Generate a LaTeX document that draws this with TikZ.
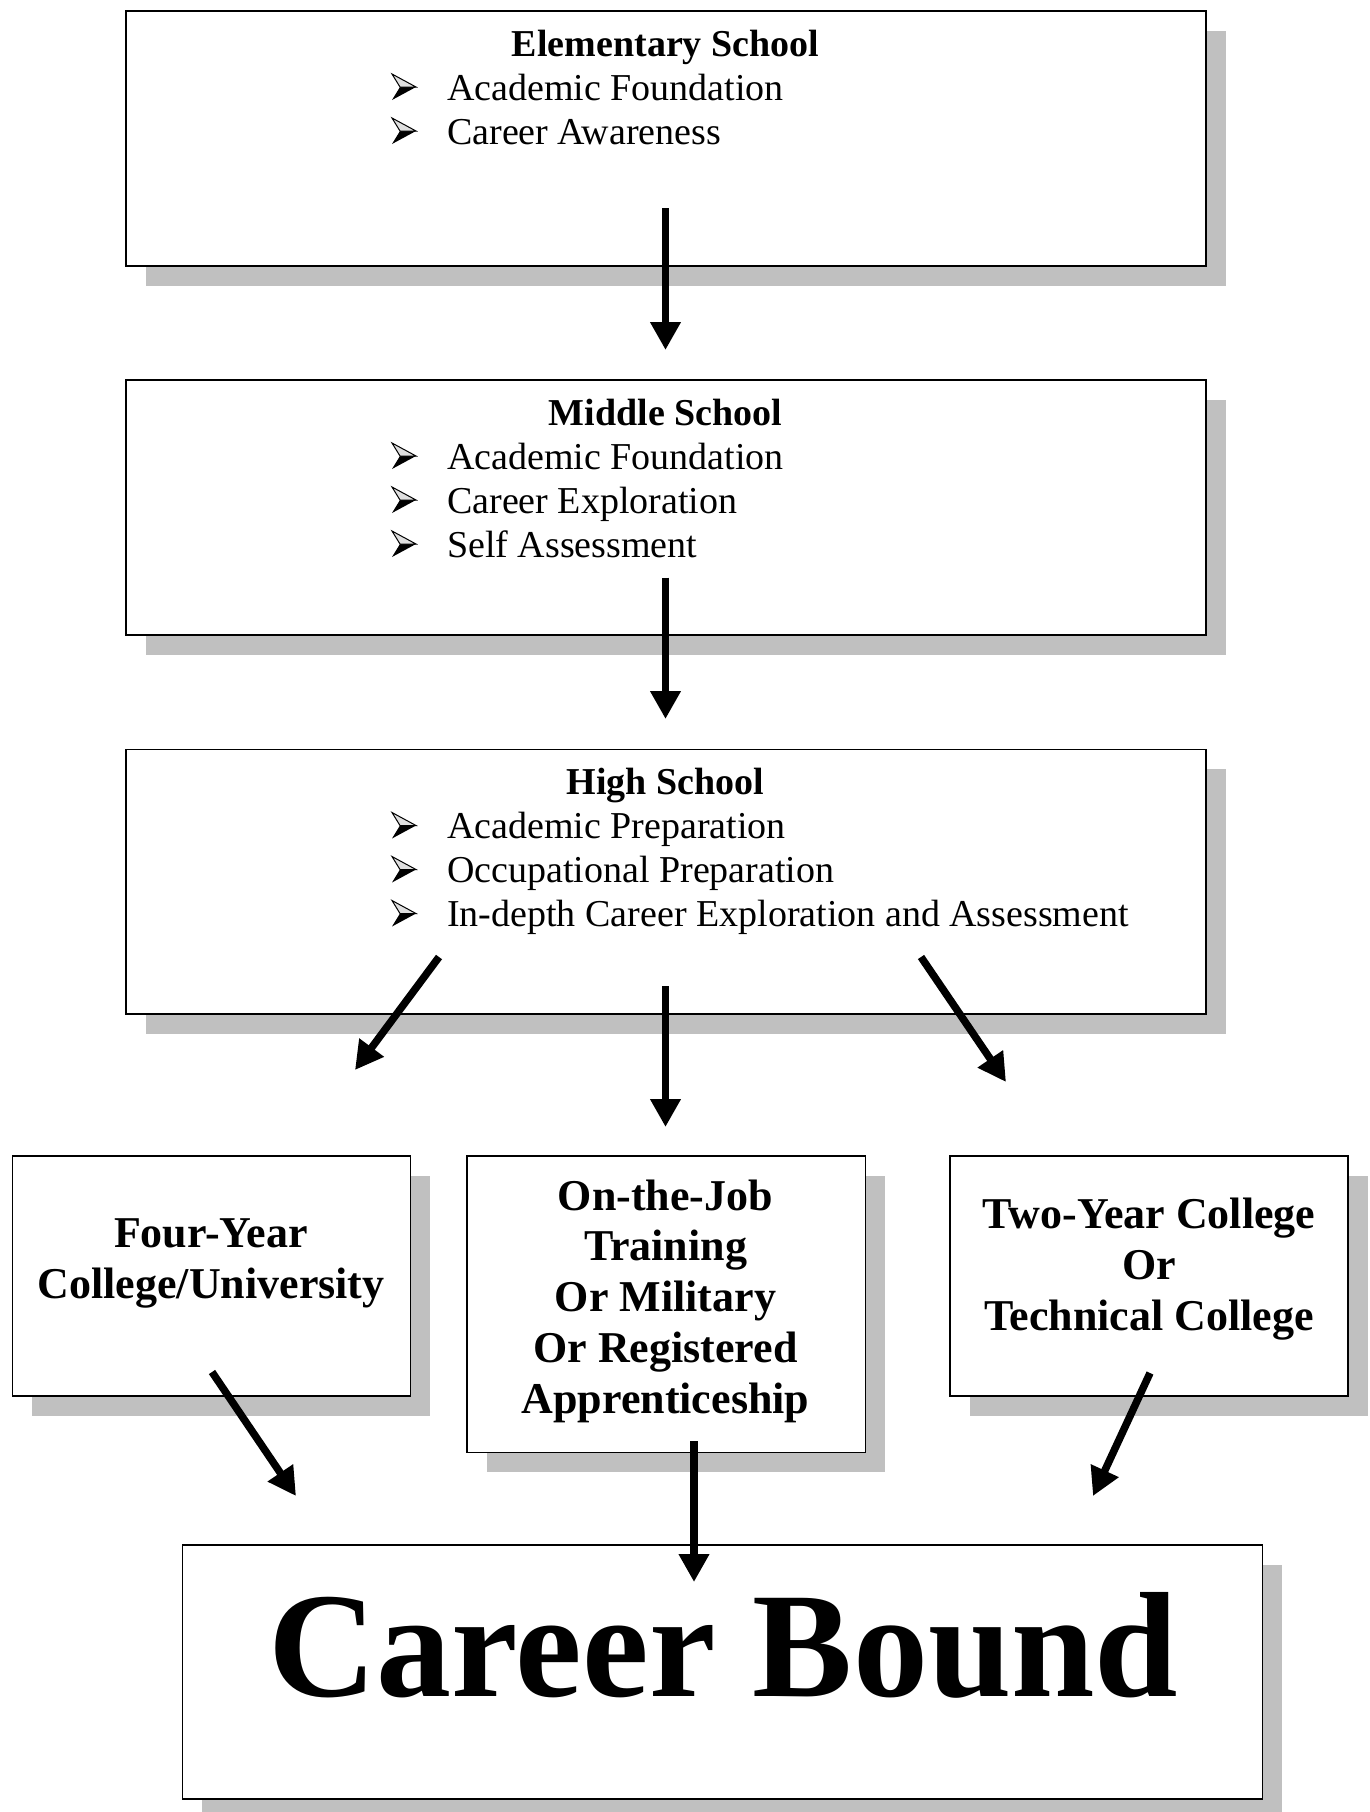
\documentclass[tikz,border=0pt]{standalone}
\usepackage{fontspec}
\setmainfont{Liberation Serif}
\usetikzlibrary{arrows.meta,shadows}
\definecolor{shadowgray}{RGB}{192,192,192}
\begin{document}
\begin{tikzpicture}[x=1pt,y=-1pt,
  box/.style={draw=black, line width=1.8pt, fill=white, inner sep=0pt,
    anchor=north west,
    drop shadow={shadow xshift=20pt, shadow yshift=-20pt, fill=shadowgray, opacity=1}},
  flow/.style={line width=7.5pt, -{Triangle[length=28pt,width=29pt]}},
  ttl/.style={anchor=base, inner sep=0pt, font=\fontsize{38}{44}\selectfont\bfseries},
  itm/.style={anchor=base west, inner sep=0pt, font=\fontsize{38}{44}\selectfont},
  big/.style={anchor=base, inner sep=0pt, font=\fontsize{44}{51}\selectfont\bfseries},
  arrowbullet/.pic={
    \fill[black] (8,-13) -- (24,-13) -- (0,0) -- cycle;
    \draw[line width=1pt, line join=miter, fill=gray!25] (0,-26) -- (24,-13) -- (8,-13) -- cycle;
  }]
\useasboundingbox (0,0) rectangle (1369,1812);
\clip (0,0) rectangle (1369,1812);
\fill[white] (0,0) rectangle (1369,1812);

% boxes
\node[box, minimum width=1080pt, minimum height=255pt] (elem) at (125,10) {};
\node[box, minimum width=1080pt, minimum height=255pt] (mid) at (125,379) {};
\node[box, minimum width=1080pt, minimum height=264.5pt] (high) at (125,748.5) {};
\node[box, minimum width=398pt, minimum height=240pt] (four) at (11.5,1155) {};
\node[box, minimum width=398.5pt, minimum height=296.5pt] (ojt) at (466,1155) {};
\node[box, minimum width=398pt, minimum height=240pt] (two) at (949,1155) {};
\node[box, minimum width=1080pt, minimum height=254pt] (cb) at (181.5,1544) {};

% Elementary
\node[ttl] (elemT) at (665.5,56) {Elementary School};
\pic at (392,100) {arrowbullet};
\node[itm] (elemA) at (447,100) {Academic Foundation};
\pic at (392,144) {arrowbullet};
\node[itm] (elemB) at (447,144) {Career Awareness};

% Middle
\node[ttl] (midT) at (665.5,425) {Middle School};
\pic at (392,469) {arrowbullet};
\node[itm] (midA) at (447,469) {Academic Foundation};
\pic at (392,513) {arrowbullet};
\node[itm] (midB) at (447,513) {Career Exploration};
\pic at (392,557) {arrowbullet};
\node[itm] (midC) at (447,557) {Self Assessment};

% High
\node[ttl] (highT) at (665.5,794.5) {High School};
\pic at (392,838.5) {arrowbullet};
\node[itm] (highA) at (447,838.5) {Academic Preparation};
\pic at (392,882.5) {arrowbullet};
\node[itm] (highB) at (447,882.5) {Occupational Preparation};
\pic at (392,926.5) {arrowbullet};
\node[itm] (highC) at (447,926.5) {In-depth Career Exploration and Assessment};

% Four-year
\node[big] (fourA) at (211,1247.5) {Four-Year};
\node[big] (fourB) at (211,1298.5) {College/University};

% On-the-job
\node[big] (ojtA) at (665.5,1210) {On-the-Job};
\node[big] (ojtB) at (665.5,1260.8) {Training};
\node[big] (ojtC) at (665.5,1311.6) {Or Military};
\node[big] (ojtD) at (665.5,1362.4) {Or Registered};
\node[big] (ojtE) at (665.5,1413.2) {Apprenticeship};

% Two-year
\node[big] (twoA) at (1149,1228.5) {Two-Year College};
\node[big] (twoB) at (1149,1279.3) {Or};
\node[big] (twoC) at (1149,1330.1) {Technical College};

% Career Bound
\node[anchor=base, inner sep=0pt, font=\fontsize{150}{170}\selectfont\bfseries] (cbT) at (723.5,1696.5) {Career Bound};

% arrow end points
\coordinate (e1s) at (665.5,208);   \coordinate (e1e) at (665.5,350);
\coordinate (m1s) at (665.5,577.5); \coordinate (m1e) at (665.5,719);
\coordinate (hLs) at (439,957);     \coordinate (hLe) at (355,1070);
\coordinate (hMs) at (665.5,986);   \coordinate (hMe) at (665.5,1127);
\coordinate (hRs) at (921,957);     \coordinate (hRe) at (1006,1082);
\coordinate (fLs) at (212,1372);    \coordinate (fLe) at (296,1496);
\coordinate (oMs) at (694,1441);    \coordinate (oMe) at (694,1582);
\coordinate (tRs) at (1150,1373);   \coordinate (tRe) at (1093,1496);

\draw[flow] (e1s) -- (e1e);
\draw[flow] (m1s) -- (m1e);
\draw[flow] (hLs) -- (hLe);
\draw[flow] (hMs) -- (hMe);
\draw[flow] (hRs) -- (hRe);
\draw[flow] (fLs) -- (fLe);
\draw[flow] (oMs) -- (oMe);
\draw[flow] (tRs) -- (tRe);
\end{tikzpicture}
\end{document}
